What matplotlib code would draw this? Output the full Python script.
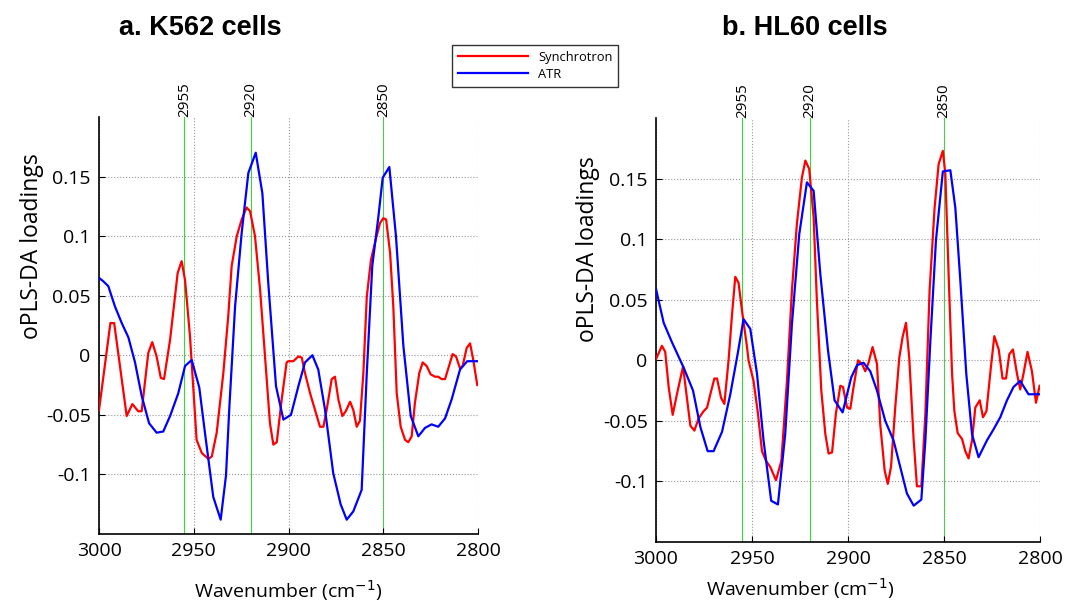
import matplotlib
matplotlib.use("Agg")
import matplotlib.pyplot as plt

# K562 cells
k562_syn_wn = [3000, 2994, 2992, 2985.4, 2982.4, 2979.3, 2977.5, 2974, 2971.9, 2969.6, 2967.4, 2965.7,
               2962.5, 2958.5, 2956.4, 2954.6, 2952, 2948.5, 2945.8, 2942.3, 2940.5, 2937.9, 2934.4,
               2931.8, 2930, 2927.3, 2924.7, 2922.1, 2920.3, 2917.7, 2915, 2912.4, 2909.8, 2908, 2906.2,
               2903.6, 2901, 2900.1, 2897.5, 2894.8, 2893, 2891.3, 2888.6, 2886, 2883.4, 2881.6, 2879.9,
               2877.2, 2875.5, 2873.7, 2871.6, 2869.8, 2867.5, 2865.8, 2864, 2862.3, 2860.5, 2858.7,
               2856.5, 2854, 2851.7, 2850, 2848.5, 2846.4, 2844.7, 2842.9, 2840.8, 2838.5, 2836.8, 2835,
               2833.3, 2831, 2829.2, 2827.1, 2825, 2822.7, 2821, 2819.2, 2817.4, 2815.3, 2813.4, 2811.6,
               2809.5, 2808.1, 2806, 2804.2, 2802.5, 2800.4]
k562_syn = [-0.046, 0.027, 0.027, -0.051, -0.041, -0.047, -0.047, 0.002, 0.011, -0.001, -0.019, -0.020,
            0.013, 0.069, 0.079, 0.063, 0.016, -0.071, -0.082, -0.087, -0.085, -0.065, -0.015,
            0.033, 0.075, 0.100, 0.114, 0.124, 0.121, 0.100, 0.055, -0.001, -0.057, -0.075, -0.073,
            -0.037, -0.006, -0.005, -0.005, -0.001, -0.002, -0.015, -0.032, -0.046, -0.060, -0.060, -0.046,
            -0.020, -0.018, -0.037, -0.051, -0.047, -0.039, -0.046, -0.060, -0.055, -0.015, 0.049,
            0.080, 0.097, 0.111, 0.115, 0.114, 0.086, 0.041, -0.032, -0.060, -0.071, -0.073, -0.068,
            -0.040, -0.015, -0.006, -0.009, -0.016, -0.018, -0.018, -0.020, -0.020, -0.009, 0.001, -0.001,
            -0.011, -0.009, 0.006, 0.010, -0.004, -0.025]
k562_atr_wn = [3000, 2997.7, 2995.1, 2991.6, 2988, 2984.5, 2981, 2977.5, 2973.6, 2969.6, 2966.1, 2962.5,
               2958.2, 2954.6, 2951.1, 2947.1, 2944.1, 2939.7, 2935.8, 2933, 2931.2, 2928.2, 2924.7,
               2921.2, 2917.3, 2913.8, 2910.7, 2906.6, 2902.7, 2898.7, 2894.8, 2891.3, 2887.4, 2884.3,
               2880.7, 2876.4, 2872.5, 2869.3, 2865.8, 2861.4, 2858.7, 2855.8, 2852.6, 2850.3, 2846.8,
               2843.3, 2839.4, 2835.5, 2831.5, 2828, 2824.5, 2821, 2817.4, 2813.9, 2809.5, 2805.7, 2800.4]
k562_atr = [0.065, 0.062, 0.058, 0.041, 0.027, 0.015, -0.006, -0.034, -0.057, -0.065, -0.064, -0.051,
            -0.032, -0.009, -0.004, -0.027, -0.065, -0.119, -0.138, -0.101, -0.043, 0.041, 0.103,
            0.153, 0.170, 0.136, 0.061, -0.026, -0.054, -0.050, -0.026, -0.006, 0.000, -0.012,
            -0.046, -0.099, -0.125, -0.138, -0.131, -0.113, -0.015, 0.075, 0.116, 0.149, 0.158,
            0.100, 0.008, -0.051, -0.068, -0.061, -0.058, -0.060, -0.053, -0.037, -0.012, -0.005, -0.005]

# HL60 cells
hl60_syn_wn = [3000, 2996.9, 2995.2, 2993.4, 2991.3, 2989.1, 2985.9, 2983.9, 2982.1, 2980, 2977.8, 2975.2,
               2973.4, 2971.7, 2969.6, 2968.2, 2966.1, 2964.4, 2962.2, 2960.4, 2958.7, 2957, 2955.2,
               2952.6, 2951.8, 2949.2, 2946.9, 2944.8, 2942.7, 2940.5, 2937.5, 2934.7, 2931.8, 2929.2,
               2926.6, 2924, 2922.2, 2920.2, 2917.9, 2916.2, 2913.9, 2911.8, 2910.1, 2908.3, 2906.3,
               2904, 2902.6, 2900.5, 2898.8, 2897.1, 2894.8, 2892.7, 2891, 2889.3, 2887.2, 2884.9,
               2883.2, 2880.9, 2879.3, 2877.6, 2875.4, 2873.3, 2871.6, 2869.8, 2868.1, 2865.8, 2864.1,
               2861.8, 2859.7, 2857.5, 2854.9, 2852.8, 2850.6, 2849.3, 2847.6, 2845.8, 2844.6, 2842.9,
               2840.6, 2838.9, 2837.2, 2835.4, 2833.7, 2831.4, 2829.7, 2827.9, 2825.8, 2823.8, 2821.5,
               2819.5, 2817.7, 2816, 2814.1, 2812, 2810.3, 2808.6, 2806.5, 2804.2, 2802.1, 2800.2]
hl60_syn = [0.001, 0.012, 0.007, -0.022, -0.045, -0.028, -0.005, -0.031, -0.054, -0.058, -0.048, -0.042,
            -0.039, -0.028, -0.015, -0.015, -0.031, -0.036, 0.000, 0.038, 0.069, 0.064, 0.041,
            0.011, 0.000, -0.017, -0.044, -0.075, -0.083, -0.088, -0.099, -0.083, -0.017, 0.058,
            0.113, 0.151, 0.165, 0.158, 0.118, 0.049, -0.025, -0.061, -0.077, -0.076, -0.044,
            -0.021, -0.022, -0.039, -0.040, -0.022, 0.000, -0.003, -0.009, -0.002, 0.011, -0.003,
            -0.053, -0.091, -0.102, -0.088, -0.039, 0.002, 0.019, 0.031, 0.002, -0.066, -0.104,
            -0.104, -0.044, 0.058, 0.126, 0.162, 0.173, 0.154, 0.071, -0.011, -0.042, -0.060,
            -0.065, -0.075, -0.081, -0.066, -0.039, -0.033, -0.047, -0.042, -0.009, 0.020, 0.009,
            -0.015, -0.015, 0.005, 0.009, -0.011, -0.024, -0.011, 0.007, -0.009, -0.035, -0.021]
hl60_atr_wn = [3000, 2996, 2991.7, 2985.6, 2980.7, 2976.9, 2973.1, 2970, 2965.6, 2961.3, 2957.5, 2954.4,
               2950.9, 2947.4, 2944, 2940, 2936.5, 2932.7, 2929.2, 2925.4, 2921.4, 2917.9, 2914.4,
               2910.4, 2907, 2902.8, 2898.3, 2895.3, 2891.9, 2888.4, 2884.9, 2880.6, 2876.3, 2872.8,
               2869.3, 2865.8, 2861.8, 2859.7, 2857.1, 2854.2, 2850.6, 2846.7, 2844.1, 2841.5, 2838.4,
               2835.4, 2832, 2827.6, 2824.2, 2820.7, 2817.2, 2813.8, 2810.3, 2806, 2800.2]
hl60_atr = [0.059, 0.031, 0.015, -0.006, -0.025, -0.055, -0.075, -0.075, -0.059, -0.028, 0.005, 0.034,
            0.026, -0.011, -0.066, -0.116, -0.119, -0.061, 0.030, 0.104, 0.147, 0.140, 0.071,
            0.008, -0.033, -0.043, -0.014, -0.004, -0.002, -0.009, -0.025, -0.050, -0.066, -0.088,
            -0.110, -0.120, -0.115, -0.066, 0.016, 0.099, 0.156, 0.157, 0.126, 0.066, -0.011,
            -0.061, -0.080, -0.066, -0.057, -0.047, -0.033, -0.022, -0.017, -0.028, -0.028]

marker_wn = [2955, 2920, 2850]
x_ticks = [3000, 2950, 2900, 2850, 2800]
y_ticks = [-0.1, -0.05, 0, 0.05, 0.1, 0.15]
y_ticklabels = ['-0.1', '-0.05', '0', '0.05', '0.1', '0.15']

plt.rcParams['font.family'] = ['Open Sans', 'DejaVu Sans']

fig = plt.figure(figsize=(10.67, 6.02), dpi=100)
ax1 = fig.add_axes([0.0928, 0.113, 0.3552, 0.6927])
ax2 = fig.add_axes([0.6148, 0.0997, 0.3599, 0.704])

panels = [
    (ax1, k562_syn_wn, k562_syn, k562_atr_wn, k562_atr, 0.5, -0.105),
    (ax2, hl60_syn_wn, hl60_syn, hl60_atr_wn, hl60_atr, 0.375, -0.08),
]

for ax, swn, sv, awn, av, xl, yl in panels:
    for w in marker_wn:
        ax.axvline(w, color='#33dd33', linewidth=0.8, zorder=1)
        ax.text(w, 0.2, str(w), rotation=90, ha='center', va='bottom', fontsize=11,
                transform=ax.transData, clip_on=False)
    ax.plot(swn, sv, color='red', linewidth=1.6, label='Synchrotron', zorder=3)
    ax.plot(awn, av, color='blue', linewidth=1.6, label='ATR', zorder=3)
    ax.set_xlim(3000, 2800)
    ax.set_ylim(-0.15, 0.2)
    ax.set_xticks(x_ticks)
    ax.set_xticklabels([str(t) for t in x_ticks])
    ax.set_yticks(y_ticks)
    ax.set_yticklabels(y_ticklabels)
    ax.grid(True, linestyle=':', color='#999999', linewidth=0.8)
    ax.spines['top'].set_visible(False)
    ax.spines['right'].set_visible(False)
    ax.spines['left'].set_linewidth(1.2)
    ax.spines['bottom'].set_linewidth(1.2)
    ax.tick_params(direction='in', labelsize=14, length=4, pad=6)
    ax.set_ylabel('oPLS-DA loadings', fontsize=16.5)
    ax.yaxis.set_label_coords(-0.145, 0.69)
    ax.set_xlabel('Wavenumber (cm$^{-1}$)', fontsize=14)
    ax.xaxis.set_label_coords(xl, yl)

fig.text(200 / 1067, 1 - 28 / 602, 'a. K562 cells', fontsize=19.5, fontweight='bold',
         family='Liberation Sans', ha='center', va='center')
fig.text(805 / 1067, 1 - 28 / 602, 'b. HL60 cells', fontsize=19.5, fontweight='bold',
         family='Liberation Sans', ha='center', va='center')

h, l = ax1.get_legend_handles_labels()
leg = fig.legend(h, l, loc='upper left', bbox_to_anchor=(452 / 1067, 1 - 45 / 602), fontsize=9.3,
                 frameon=True, fancybox=False, edgecolor='black', handlelength=5.4,
                 borderpad=0.45, labelspacing=0.3, borderaxespad=0)
leg.get_frame().set_linewidth(1.0)

fig.savefig('out.png', dpi=100)
